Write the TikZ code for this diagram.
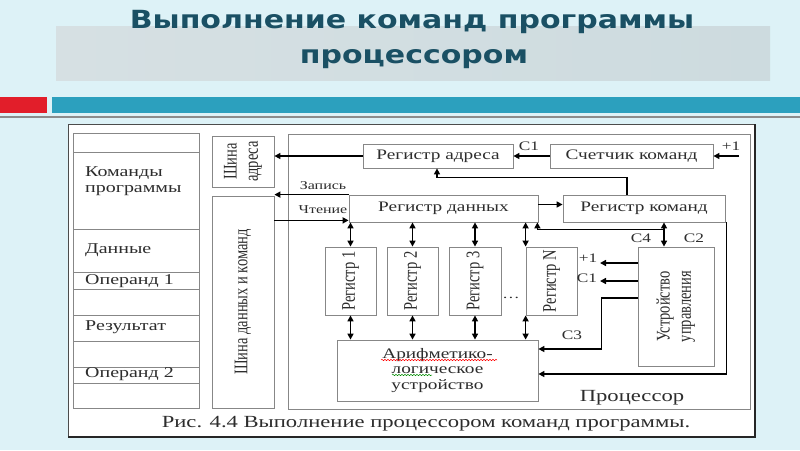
\documentclass[tikz,border=0pt]{standalone}
\usepackage{fontspec}
\usepackage{graphicx}
\setmainfont{Liberation Serif}[FakeStretch=1.33]
\newfontfamily\vfont{Liberation Serif}
\newfontfamily\titlefont{DejaVu Sans}[FakeStretch=1.2]
\usetikzlibrary{arrows.meta,decorations.pathmorphing}
\definecolor{bgc}{RGB}{221,242,247}
\definecolor{titlec}{RGB}{26,80,100}
\definecolor{tealbar}{RGB}{44,160,190}
\definecolor{redbar}{RGB}{226,30,42}
\definecolor{boxc}{RGB}{135,135,135}
\definecolor{txtc}{RGB}{45,45,45}
\definecolor{bandl}{RGB}{214,224,227}
\definecolor{bandm}{RGB}{140,153,156}
\definecolor{bandr}{RGB}{205,219,223}
\newcommand\vlabel[1]{\rotatebox{90}{\scalebox{1}[1.33]{\begin{tabular}{@{}c@{}}#1\end{tabular}}}}
\tikzset{
  box/.style={draw=boxc, line width=0.8pt, fill=white, inner sep=0pt, text=txtc,
    font=\fontsize{14.5}{16}\selectfont},
  vbox/.style={box, font=\vfont\fontsize{14.5}{16}\selectfont},
  conn/.style={line width=1.5pt, black, -{Triangle[length=6pt,width=6pt]}},
  dconn/.style={line width=1.5pt, black, {Triangle[length=6pt,width=6pt]}-{Triangle[length=6pt,width=6pt]}},
  lab/.style={text=txtc, inner sep=0pt, font=\fontsize{13}{14}\selectfont},
  memlab/.style={text=txtc, inner sep=0pt, anchor=west, font=\fontsize{15}{16}\selectfont},
  ttl/.style={text=titlec, inner sep=0pt, font=\titlefont\bfseries\fontsize{25}{27}\selectfont},
  sep/.style={draw=boxc, line width=0.8pt}
}
\begin{document}
\begin{tikzpicture}[x=1pt,y=-1pt]
\useasboundingbox (0,0) rectangle (800,450);
\fill[bgc] (0,0) rectangle (800,450);
% title band
\shade[left color=bandl, middle color=bandm, right color=bandr] (56,26) rectangle (770,80);
\node[ttl] (t1) at (412,22) {Выполнение команд программы};
\node[ttl] (t2) at (414,59) {процессором};
% bars
\fill[redbar] (0,97) rectangle (47,113);
\fill[tealbar] (52,97) rectangle (800,113);
\fill[black!45] (0,116) rectangle (800,118);
% panel
\fill[white] (68,124) rectangle (755,437);
\draw[black!70, line width=1pt] (68,437) -- (68,124) -- (755,124);
\draw[black!85, line width=2pt] (755,124) -- (755,437) -- (68,437);

% memory column
\node[box, minimum width=126pt, minimum height=275pt] (mem) at (136,270.5) {};
\foreach \yy in {152,229,272,289,315,341,367,383}
  \draw[sep] (73,\yy) -- (199,\yy);
\node[memlab] (m1) at (85,173) {Команды};
\node[memlab] (m2) at (85,191) {программы};
\node[memlab] (m3) at (85,250) {Данные};
\node[memlab] (m4) at (85,281) {Операнд 1};
\node[memlab] (m5) at (85,327) {Результат};
\node[memlab] (m6) at (85,374) {Операнд 2};

% buses
\node[vbox, minimum width=62pt, minimum height=51pt] (busA) at (243,161.5) {\vlabel{Шина\\адреса}};
\node[vbox, minimum width=62pt, minimum height=212pt] (busD) at (243,302) {\vlabel{Шина данных и команд}};

% processor
\node[box, minimum width=462pt, minimum height=275pt] (proc) at (519,271.5) {};
\node[lab, font=\fontsize{17}{18}\selectfont] (procl) at (632,398) {Процессор};

\node[box, minimum width=150pt, minimum height=24pt] (rAddr) at (438,156) {Регистр адреса};
\node[box, minimum width=163pt, minimum height=24pt] (cnt) at (631.5,156) {Счетчик команд};
\node[box, minimum width=189pt, minimum height=27pt] (rData) at (443.5,208.5) {Регистр данных};
\node[box, minimum width=162pt, minimum height=27pt] (rCmd) at (644,208.5) {Регистр команд};

\node[vbox, minimum width=51pt, minimum height=68pt] (reg1) at (350.5,281) {\vlabel{Регистр 1}};
\node[vbox, minimum width=51pt, minimum height=68pt] (reg2) at (412.5,281) {\vlabel{Регистр 2}};
\node[vbox, minimum width=52pt, minimum height=68pt] (reg3) at (475,281) {\vlabel{Регистр 3}};
\node[vbox, minimum width=51pt, minimum height=68pt] (regN) at (551.5,281) {\vlabel{Регистр N}};
\node[lab] (dots) at (511,298) {\dots};

\node[box, minimum width=201pt, minimum height=61pt, align=center,
  font=\fontsize{14.5}{15.5}\selectfont] (alu) at (437.5,370.5) {Арифметико-\\логическое\\устройство};
\draw[red, line width=0.5pt, decorate, decoration={snake, amplitude=0.7pt, segment length=3pt}]
  (381,360) -- (497,360);
\draw[green!55!black, line width=0.5pt, decorate, decoration={snake, amplitude=0.7pt, segment length=3pt}]
  (392,375) -- (432,375);

\node[vbox, minimum width=76pt, minimum height=119pt] (cu) at (676,306.5) {\vlabel{Устройство\\управления}};

% address path
\draw[conn] (rAddr.west) -- (rAddr.west -| busA.east);
\draw[conn] (cnt.west) -- (rAddr.east);
\node[lab] (c1a) at (529,146) {C1};
\coordinate (inc) at (739,156);
\draw[conn] (inc) -- (cnt.east);
\node[lab] (p1a) at (731,146) {+1};
\draw[conn] ([xshift=-17pt]rCmd.north) -- ++(0,-17) -| ([xshift=-1pt]rAddr.south);

% data register
\draw[conn] ([yshift=4pt]rData.east) -- ([yshift=4pt]rData.east -| rCmd.west);
\draw[conn] (rData.north west) -- (rData.north west -| busD.east);
\node[lab, font=\fontsize{12}{13}\selectfont] (wr) at (323,186) {Запись};
\draw[conn] ([yshift=2pt]rData.south west -| busD.east) -- ([yshift=2pt]rData.south west);
\node[lab, font=\fontsize{12}{13}\selectfont] (rd) at (323,210) {Чтение};

% registers
\foreach \r in {reg1,reg2,reg3} {
  \draw[dconn] (\r.north) -- (\r.north |- rData.south);
  \draw[dconn] (\r.south) -- (\r.south |- alu.north);
}
\draw[dconn] (regN.north west) -- (regN.north west |- rData.south);
\draw[dconn] (regN.south west) -- (regN.south west |- alu.north);

% control unit
\coordinate (c4t) at ([xshift=20pt]rCmd.south);
\draw[dconn] (c4t) -- (c4t |- cu.north);
\coordinate (br) at ([yshift=-7pt]c4t);
\draw[conn] (br) -| ([xshift=-1pt]rData.south east);
\node[lab] (c4l) at (641,238) {C4};
\node[lab] (c2l) at (694,238) {C2};

\coordinate (ylow) at (0,374);
\draw[conn] ([xshift=1pt]rCmd.south east) -- ([xshift=1pt]rCmd.south east |- ylow) -- (alu.east |- ylow);

\coordinate (plusend) at (600,263);
\draw[conn] (cu.west |- plusend) -- (plusend);
\node[lab] (p1b) at (588,258) {+1};
\coordinate (c1end) at (600,281);
\draw[conn] (cu.west |- c1end) -- (c1end);
\node[lab] (c1b) at (587,278) {C1};
\coordinate (c3y) at (0,349);
\draw[conn] ([yshift=8.5pt]cu.west) -- ++(-36,0) |- (alu.east |- c3y);
\node[lab] (c3l) at (572,335) {C3};

% caption
\node[lab, font=\fontsize{17}{18}\selectfont] (cap) at (426,424) {Рис. 4.4 Выполнение процессором команд программы.};
\end{tikzpicture}
\end{document}
